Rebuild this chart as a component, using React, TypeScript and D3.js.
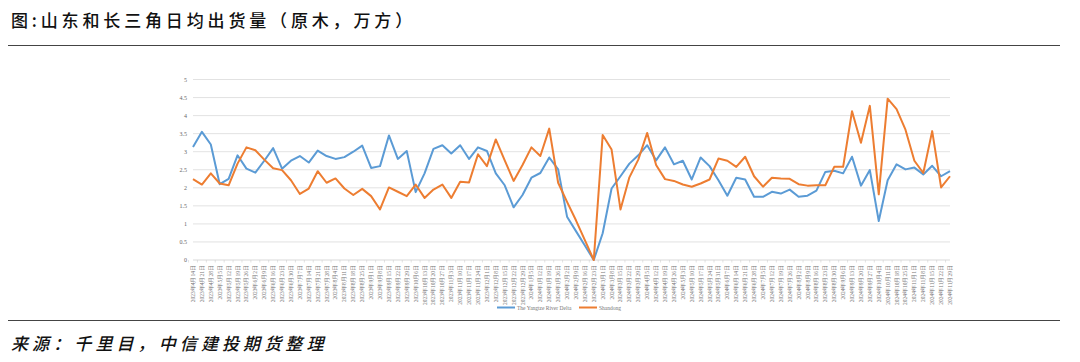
import * as d3 from 'd3';

const dates: string[] = [
  '2023年4月14日', '2023年4月21日', '2023年4月28日', '2023年5月5日', '2023年5月12日', '2023年5月19日', '2023年5月26日',
  '2023年6月2日', '2023年6月9日', '2023年6月16日', '2023年6月23日', '2023年6月30日', '2023年7月7日', '2023年7月14日',
  '2023年7月21日', '2023年7月28日', '2023年8月4日', '2023年8月11日', '2023年8月18日', '2023年8月25日', '2023年9月1日',
  '2023年9月8日', '2023年9月15日', '2023年9月22日', '2023年9月29日', '2023年10月6日', '2023年10月13日', '2023年10月20日',
  '2023年10月27日', '2023年11月3日', '2023年11月10日', '2023年11月17日', '2023年11月24日', '2023年12月1日', '2023年12月8日',
  '2023年12月15日', '2023年12月22日', '2023年12月29日', '2024年1月5日', '2024年1月12日', '2024年1月19日', '2024年1月26日',
  '2024年2月2日', '2024年2月9日', '2024年2月16日', '2024年2月23日', '2024年3月1日', '2024年3月8日', '2024年3月15日',
  '2024年3月22日', '2024年3月29日', '2024年4月5日', '2024年4月12日', '2024年4月19日', '2024年4月26日', '2024年5月3日',
  '2024年5月10日', '2024年5月17日', '2024年5月24日', '2024年5月31日', '2024年6月7日', '2024年6月14日', '2024年6月21日',
  '2024年6月28日', '2024年7月5日', '2024年7月12日', '2024年7月19日', '2024年7月26日', '2024年8月2日', '2024年8月9日',
  '2024年8月16日', '2024年8月23日', '2024年8月30日', '2024年9月6日', '2024年9月13日', '2024年9月20日', '2024年9月27日',
  '2024年10月4日', '2024年10月11日', '2024年10月18日', '2024年10月25日', '2024年11月1日', '2024年11月8日', '2024年11月15日',
  '2024年11月22日', '2024年11月29日',
];

// 长三角
const delta: number[] = [
  3.13, 3.55, 3.2, 2.1, 2.25, 2.9, 2.53, 2.42, 2.75, 3.1,
  2.53, 2.75, 2.88, 2.7, 3.03, 2.88, 2.8, 2.85, 3.0, 3.17,
  2.55, 2.6, 3.45, 2.8, 3.02, 1.88, 2.4, 3.08, 3.18, 2.95,
  3.18, 2.8, 3.12, 3.02, 2.4, 2.07, 1.46, 1.8, 2.28, 2.41,
  2.84, 2.51, 1.2, 0.8, 0.4, 0.0, 0.74, 1.98, 2.32, 2.67,
  2.9, 3.18, 2.76, 3.12, 2.65, 2.75, 2.23, 2.84, 2.6, 2.21,
  1.78, 2.28, 2.23, 1.75, 1.75, 1.89, 1.84, 1.95, 1.75, 1.78,
  1.92, 2.44, 2.47, 2.4, 2.86, 2.06, 2.49, 1.08, 2.21, 2.65,
  2.51, 2.56, 2.37, 2.61, 2.32, 2.46,
];

// 山东
const shandong: number[] = [
  2.24, 2.09, 2.4, 2.12, 2.07, 2.67, 3.12, 3.04, 2.78, 2.54,
  2.49, 2.21, 1.83, 1.98, 2.46, 2.14, 2.26, 1.98, 1.8, 1.97,
  1.77, 1.4, 2.01, 1.89, 1.77, 2.09, 1.72, 1.95, 2.09, 1.72,
  2.17, 2.15, 2.93, 2.6, 3.34, 2.76, 2.19, 2.63, 3.12, 2.88,
  3.64, 2.14, 1.61, 1.1, 0.55, 0.0, 3.46, 3.06, 1.4, 2.29,
  2.78, 3.52, 2.63, 2.24, 2.19, 2.09, 2.03, 2.12, 2.23, 2.81,
  2.75, 2.58, 2.86, 2.32, 2.03, 2.28, 2.26, 2.25, 2.1, 2.06,
  2.07, 2.07, 2.58, 2.58, 4.12, 3.25, 4.27, 1.82, 4.47, 4.18,
  3.61, 2.75, 2.41, 3.57, 2.01, 2.32,
];

const yTicks: number[] = [0, 0.5, 1, 1.5, 2, 2.5, 3, 3.5, 4, 4.5, 5];

const W = 1080;
const H = 362;
const plot = { left: 193, right: 950, top: 79.5, bottom: 260 };
const BLUE = '#5b9bd5';
const ORANGE = '#ed7d31';
const SERIF = '"Liberation Serif", "Times New Roman", serif';
const CJK = '"Noto Sans CJK SC", sans-serif';

export default function App() {
  const x = d3.scalePoint<number>()
    .domain(d3.range(dates.length))
    .range([plot.left, plot.right]);
  const y = d3.scaleLinear().domain([0, 5]).range([plot.bottom, plot.top]);

  const line = d3.line<number>()
    .x((_, i) => x(i)!)
    .y(d => y(d));

  const step = x.step();

  return (
    <svg width={W} height={H} style={{ position: 'absolute', left: 0, top: 0, background: '#fff' }}>
      <text x={11} y={27} fontFamily={CJK} fontSize={17} fontWeight={500} fill="#111" letterSpacing={3.85}>
        图:山东和长三角日均出货量（原木，万方）
      </text>
      <line x1={8} x2={1060} y1={45.5} y2={45.5} stroke="#444" strokeWidth={1} />

      {yTicks.map(t => (
        <g key={t}>
          {t > 0 && (
            <line x1={plot.left} x2={plot.right} y1={y(t)} y2={y(t)} stroke="#dadada" strokeWidth={0.8} />
          )}
          <text x={187} y={y(t) + 2} textAnchor="end" fontFamily={SERIF} fontSize={6} fill="#666">
            {t}
          </text>
        </g>
      ))}

      <line x1={plot.left} x2={plot.right} y1={plot.bottom} y2={plot.bottom} stroke="#cfcfcf" strokeWidth={0.8} />
      {dates.map((_, i) => (
        <line key={i} x1={x(i)! - step / 2} x2={x(i)! - step / 2} y1={plot.bottom} y2={plot.bottom + 2.5}
          stroke="#cfcfcf" strokeWidth={0.6} />
      ))}
      {dates.map((d, i) => (
        <text key={d} transform={`translate(${x(i)! + 2},${plot.bottom + 5}) rotate(-90)`} textAnchor="end"
          fontFamily={SERIF} fontSize={5.5} fill="#777">
          {d}
        </text>
      ))}

      <path d={line(delta) ?? ''} fill="none" stroke={BLUE} strokeWidth={2} strokeLinejoin="round" />
      <path d={line(shandong) ?? ''} fill="none" stroke={ORANGE} strokeWidth={2} strokeLinejoin="round" />

      <line x1={497} x2={515} y1={307.5} y2={307.5} stroke={BLUE} strokeWidth={2} />
      <text x={517} y={309.5} fontFamily={SERIF} fontSize={5.5} fill="#777">The Yangtze River Delta</text>
      <line x1={579} x2={597} y1={307.5} y2={307.5} stroke={ORANGE} strokeWidth={2} />
      <text x={599} y={309.5} fontFamily={SERIF} fontSize={5.5} fill="#777">Shandong</text>

      <line x1={8} x2={1060} y1={320.5} y2={320.5} stroke="#444" strokeWidth={1} />
      <text x={11} y={350} fontFamily={CJK} fontSize={17} fontStyle="italic" fontWeight={500} fill="#111" letterSpacing={4.1}>
        来源：千里目，中信建投期货整理
      </text>
    </svg>
  );
}
